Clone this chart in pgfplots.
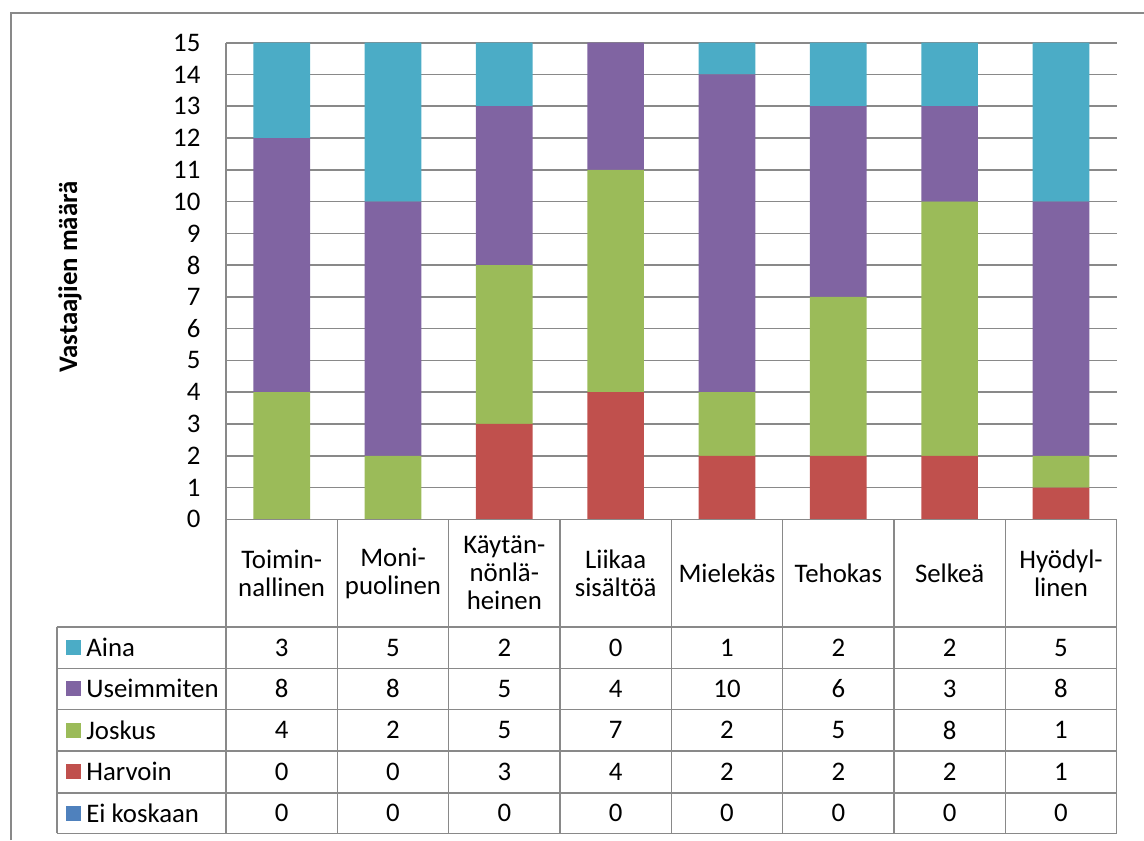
\documentclass[border=0pt]{standalone}
\usepackage{pgfplots}
\pgfplotsset{compat=1.18}
\usepackage{pgfplotstable}
\usepackage{fontspec}
\setmainfont{Carlito}
\definecolor{cAina}{HTML}{4BACC6}
\definecolor{cUse}{HTML}{8064A2}
\definecolor{cJos}{HTML}{9BBB59}
\definecolor{cHar}{HTML}{C0504D}
\definecolor{cEi}{HTML}{4F81BD}
\definecolor{gl}{HTML}{898989}
\pgfplotstableread{
x Ei Harvoin Joskus Useimmiten Aina
0 0 0 4 8 3
1 0 0 2 8 5
2 0 3 5 5 2
3 0 4 7 4 0
4 0 2 2 10 1
5 0 2 5 6 2
6 0 2 8 3 2
7 0 1 1 8 5
}\data
\newcommand\fs{\fontsize{13.4pt}{14pt}\selectfont}
\begin{document}
\fs
\begin{tikzpicture}
\begin{scope}[x=0.5pt,y=-0.5pt]
\useasboundingbox (0,0) rectangle (1144,840);
\draw[gl, line width=1pt] (11,840) -- (11,13) -- (1144,13);
\end{scope}
\begin{axis}[
  at={(113pt,-259.65pt)}, anchor=south west,
  scale only axis, width=445.3pt, height=238.3pt,
  ybar stacked, bar width=28.35pt,
  xmin=-0.5, xmax=7.5, ymin=0, ymax=15,
  ytick={0,1,...,15}, xtick=\empty,
  axis x line=none, axis y line=left,
  axis line style={-, gl, line width=0.8pt},
  ymajorgrids, grid style={gl, line width=0.8pt},
  ytick style={draw=none},
  yticklabel style={font=\fs, inner sep=0pt, xshift=-10.5pt},
  /pgf/number format/assume math mode=true,
  clip=false,
]
\addplot[fill=cEi, draw=none] table[x=x,y=Ei]{\data};
\addplot[fill=cHar, draw=none] table[x=x,y=Harvoin]{\data};
\addplot[fill=cJos, draw=none] table[x=x,y=Joskus]{\data};
\addplot[fill=cUse, draw=none] table[x=x,y=Useimmiten]{\data};
\addplot[fill=cAina, draw=none] table[x=x,y=Aina]{\data};
\end{axis}
\begin{scope}[x=0.5pt,y=-0.5pt]
\node[rotate=90, font=\bfseries\fs] at (70,277) {Vastaajien määrä};
\draw[gl, line width=0.8pt] (226,519.3) -- (1116.7,519.3);
\foreach \yy in {626.7,668.3,709.3,751,792.7,833.3}
  \draw[gl, line width=0.8pt] (56.7,\yy) -- (1116.7,\yy);
\draw[gl, line width=0.8pt] (56.7,626.7) -- (56.7,833.3);
\foreach \k in {0,...,8}
  \draw[gl, line width=0.8pt] ({226+111.33*\k},519.3) -- ({226+111.33*\k},833.3);
\foreach \lab [count=\i from 0] in {{Toimin-\\nallinen},{Moni-\\puolinen},{Käytän-\\nönlä-\\heinen},{Liikaa\\sisältöä},{Mielekäs},{Tehokas},{Selkeä},{Hyödyl-\\linen}}
  \node[align=center, inner sep=0pt] at ({226+111.33*(\i+0.5)},573) {\lab};
\foreach \nm/\col/\yy in {Aina/cAina/647.5,Useimmiten/cUse/688.8,Joskus/cJos/730.2,Harvoin/cHar/771.8,Ei koskaan/cEi/813}{
  \fill[\col] (66,{\yy-7.5}) rectangle (81,{\yy+7.5});
  \node[anchor=west, inner sep=0pt] at (86,\yy) {\nm};
}
\foreach \col/\yy in {Aina/647.5,Useimmiten/688.8,Joskus/730.2,Harvoin/771.8,Ei/813}{
  \foreach \i in {0,...,7}{
    \pgfplotstablegetelem{\i}{\col}\of\data
    \node[inner sep=0pt] at ({226+111.33*(\i+0.5)},\yy) {\pgfplotsretval};
  }
}
\end{scope}
\end{tikzpicture}
\end{document}
